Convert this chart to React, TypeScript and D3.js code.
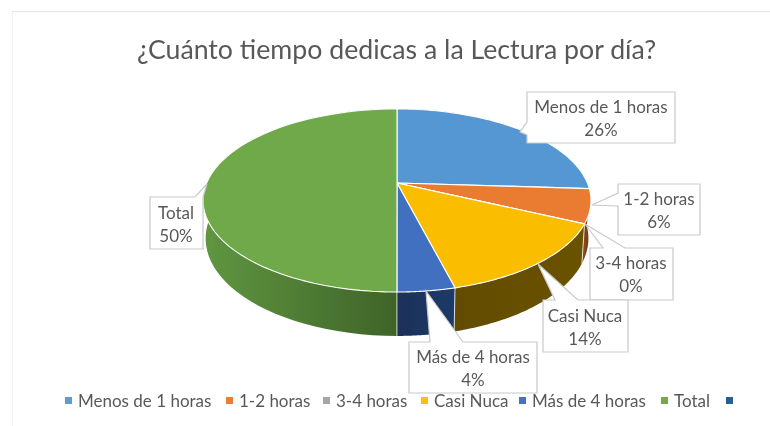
import React from "react";
import * as d3 from "d3";

const titleText = "¿Cuánto tiempo dedicas a la Lectura por día?";
const categories = ["Menos de 1 horas", "1-2 horas", "3-4 horas", "Casi Nuca", "Más de 4 horas", "Total"];
const values = [26, 6, 0.01, 14, 4, 50];
const percentLabels = ["26%", "6%", "0%", "14%", "4%", "50%"];
const topColors = ["#5597d3", "#ea7b31", "#a5a5a5", "#fbbd02", "#4270c0", "#6fa948"];
const wallNear = ["#2f5a80", "#6b3310", "#5f5f5f", "#6b5200", "#1f3a68", "#5f9640"];
const wallFar = ["#2f5a80", "#8a4a1c", "#5f5f5f", "#624c00", "#1c3159", "#3f6328"];
const legendLabels = [...categories, ""];
const legendColors = ["#5b9bd5", "#ed7d31", "#a5a5a5", "#ffc000", "#4472c4", "#70ad47", "#255e91"];
const legendMarkerX = [65, 226, 323, 421, 519, 661, 726];

// Perspective projection of the disc, fitted to the picture
const cx = 397, cy = 183, a = 190.4, b = 88.2, k = -0.191, depth = 37.5, w0 = 0.013;
const project = (t: number, lower: boolean): [number, number] => {
  const u = Math.sin(t), v = -Math.cos(t);
  const w = 1 + k * v + (lower ? w0 : 0);
  return [cx + (a * u) / w, cy + (b * v + (lower ? depth : 0)) / w];
};
const rim = (t0: number, t1: number, lower: boolean) =>
  d3.range(0, 61).map((i) => project(t0 + ((t1 - t0) * i) / 60, lower));

const line = d3.line<[number, number]>();
const pie = d3.pie<number>().sort(null).startAngle(0).endAngle(2 * Math.PI);
const arcs = pie(values);

type Callout = { box: [number, number, number, number]; outline: [number, number][]; textX: number; textY: number };
// box: x0,y0,x1,y1; outline: the pointer part inserted in the rectangle path
const callouts: Callout[] = [
  { box: [527, 92, 675, 143], outline: [[527, 122], [520, 132], [527, 135]], textX: 601, textY: 113 },
  { box: [618, 184, 700, 235], outline: [[618, 193], [592, 205], [618, 206]], textX: 659, textY: 205 },
  { box: [590, 248, 673, 300], outline: [[603, 248], [585, 224], [625, 248]], textX: 631, textY: 269 },
  { box: [543, 300, 628, 352], outline: [[555, 300], [538, 264], [578, 300]], textX: 585, textY: 322 },
  { box: [409, 342, 537, 393], outline: [[430, 342], [426, 291], [463, 342]], textX: 473, textY: 363 },
  { box: [150, 197, 203, 249], outline: [[195, 197], [207, 184], [203, 197]], textX: 176, textY: 219 },
];

const FONT = "Lato, 'Noto Sans', sans-serif";

function calloutPath(c: Callout) {
  const [x0, y0, x1, y1] = c.box;
  const [p0, tip, p1] = c.outline;
  let pts: [number, number][];
  if (p0[1] === y0 && p1[1] === y0) {
    pts = [[x0, y0], p0, tip, p1, [x1, y0], [x1, y1], [x0, y1]];
  } else {
    pts = [[x0, y0], [x1, y0], [x1, y1], [x0, y1], p1, tip, p0];
  }
  return line(pts) + "Z";
}

export default function App() {
  const frontEdges = [arcs[3].endAngle, arcs[4].endAngle, arcs[2].endAngle];
  return (
    <svg width={770} height={426} style={{ position: "absolute", left: 0, top: 0, background: "#fff" }} fontFamily={FONT}>
      <defs>
        {arcs.map((d, i) => {
          const x0 = project(d.startAngle, false)[0];
          const x1 = project(d.endAngle, false)[0];
          return (
            <linearGradient key={i} id={`w${i}`} gradientUnits="userSpaceOnUse" x1={i === 5 ? 205 : x0} x2={i === 5 ? 397 : x1} y1={0} y2={0}>
              <stop offset="0" stopColor={wallNear[i]} />
              <stop offset="1" stopColor={wallFar[i]} />
            </linearGradient>
          );
        })}
        <filter id="soft" x="0" y="0" width="100%" height="100%">
          <feGaussianBlur stdDeviation="0.35" />
        </filter>
      </defs>
      <g filter="url(#soft)">
        <path d="M12 426V11.5H770" fill="none" stroke="#e6e6e6" strokeWidth={1} />
        <text x={396.5} y={59} textAnchor="middle" fontSize={26.7} fill="#595959">{titleText}</text>

        {arcs.map((d, i) => {
          const pts = [...rim(d.startAngle, d.endAngle, false), ...rim(d.startAngle, d.endAngle, true).reverse()];
          return <path key={i} d={line(pts) + "Z"} fill={`url(#w${i})`} />;
        })}
        {frontEdges.map((t, i) => (
          <path key={i} d={line([project(t, false), project(t, true)]) ?? ""} stroke="#fff" strokeWidth={1} opacity={0.75} />
        ))}
        {arcs.map((d, i) => {
          const pts: [number, number][] = [[cx, cy], ...rim(d.startAngle, d.endAngle, false)];
          return <path key={i} d={line(pts) + "Z"} fill={topColors[i]} stroke="#fff" strokeWidth={1.1} strokeLinejoin="round" />;
        })}

        {callouts.map((c, i) => (
          <g key={i}>
            <path d={calloutPath(c)} fill="#fff" stroke="#c9c9c9" strokeWidth={1.2} />
            <text x={c.textX} y={c.textY} textAnchor="middle" fontSize={17} fill="#595959">{categories[i]}</text>
            <text x={c.textX} y={c.textY + 23} textAnchor="middle" fontSize={17} fill="#595959">{percentLabels[i]}</text>
          </g>
        ))}

        {legendLabels.map((l, i) => (
          <g key={i}>
            <rect x={legendMarkerX[i]} y={397} width={7} height={7} fill={legendColors[i]} />
            <text x={legendMarkerX[i] + 13} y={406.5} fontSize={17} fill="#595959">{l}</text>
          </g>
        ))}
      </g>
    </svg>
  );
}
